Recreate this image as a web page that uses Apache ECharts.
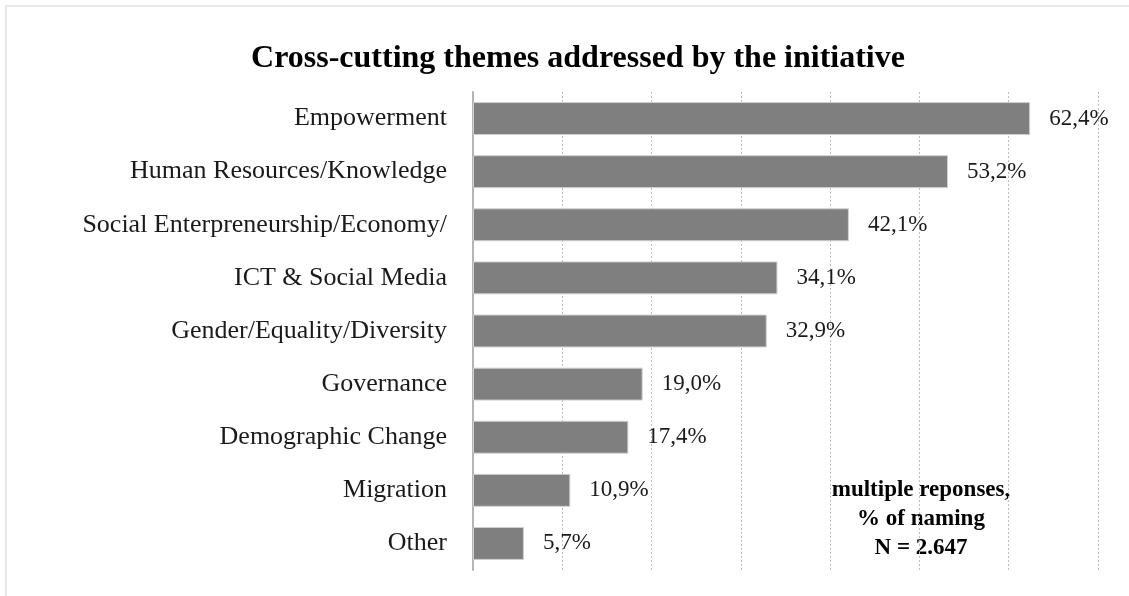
<!DOCTYPE html>
<html>
<head>
<meta charset="utf-8">
<script src="https://cdn.jsdelivr.net/npm/echarts@6/dist/echarts.min.js"></script>
<style>
html,body{margin:0;padding:0;background:#fff;}
#chart{width:1129px;height:596px;}
</style>
</head>
<body>
<div id="chart"></div>
<script>
const titleText = 'Cross-cutting themes addressed by the initiative';
const categories = [
  'Empowerment',
  'Human Resources/Knowledge',
  'Social Enterpreneurship/Economy/',
  'ICT & Social Media',
  'Gender/Equality/Diversity',
  'Governance',
  'Demographic Change',
  'Migration',
  'Other'
];
const values = [62.4, 53.2, 42.1, 34.1, 32.9, 19.0, 17.4, 10.9, 5.7];
const noteLines = ['multiple reponses,', '% of naming', 'N = 2.647'];

const chart = echarts.init(document.getElementById('chart'));
const serif = '"Liberation Serif", "DejaVu Serif", serif';
chart.setOption({
  animation: false,
  backgroundColor: '#fff',
  title: {
    text: titleText,
    left: 573, top: 38, textAlign: 'center',
    textStyle: { fontFamily: serif, fontWeight: 'bold', fontSize: 32, color: '#000' }
  },
  grid: { left: 473, top: 92, width: 625, height: 478, containLabel: false },
  xAxis: {
    type: 'value', min: 0, max: 70, interval: 10,
    axisLabel: { show: false }, axisTick: { show: false }, axisLine: { show: false },
    splitLine: { show: true, lineStyle: { type: [2, 2], color: '#bdbdbd', width: 1 } }
  },
  yAxis: {
    type: 'category', inverse: true, data: categories,
    axisLine: { show: true, lineStyle: { color: '#b5b5b5', width: 2 } },
    axisTick: { show: false },
    axisLabel: { fontFamily: serif, fontSize: 26, color: '#1a1a1a', margin: 26 }
  },
  series: [{
    type: 'bar', data: values, barCategoryGap: '38%',
    itemStyle: { color: '#7f7f7f', borderColor: '#d0d0d0', borderWidth: 1 },
    label: {
      show: true, position: 'right', distance: 19,
      fontFamily: serif, fontSize: 23, color: '#1a1a1a',
      formatter: p => p.value.toFixed(1).replace('.', ',') + '%'
    }
  }],
  graphic: [
    { type: 'rect', shape: { x: 6, y: 6, width: 1140, height: 620 },
      style: { fill: 'none', stroke: '#e8e8e8', lineWidth: 2 }, silent: true },
    { type: 'text', x: 921, y: 476,
      style: { text: noteLines.join('\n'), fontFamily: serif, fontWeight: 'bold', fontSize: 23,
               lineHeight: 29, align: 'center', verticalAlign: 'top', fill: '#000' } }
  ]
});
</script>
</body>
</html>
